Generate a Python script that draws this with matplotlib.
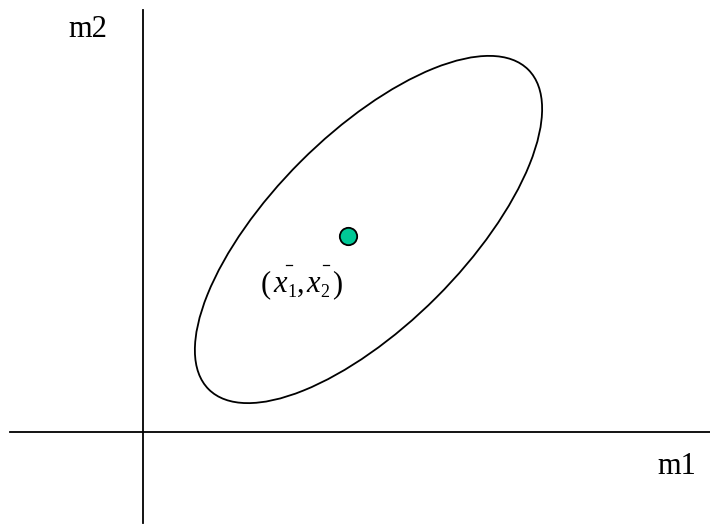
import matplotlib.pyplot as plt
from matplotlib.patches import Ellipse

plt.rcParams['font.family'] = ['Liberation Serif', 'DejaVu Serif']

# axes frame (pixel units, y grows downwards)
vert_x = 143
vert_y = [10, 523]
horz_y = 432
horz_x = [10, 710]

# ellipse of the two measurements
ell_center = (368.5, 229.5)
ell_width = 452
ell_height = 192
ell_angle = -45

# mean point and its label pieces: (text, x, baseline, size, style)
mean_pt = (348, 236)
label_parts = [
    ('(', 261, 292, 22, 'normal'),
    ('x', 273, 292, 22, 'italic'),
    ('1', 287, 297, 13, 'normal'),
    (',', 297, 292, 22, 'normal'),
    ('x', 306, 292, 22, 'italic'),
    ('2', 320, 297, 13, 'normal'),
    (')', 332, 292, 22, 'normal'),
]
bar_x = [(286, 292), (323, 329)]
bar_y = 265
axis_labels = ['m1', 'm2']

fig = plt.figure(figsize=(7.1, 5.25), dpi=100)
ax = fig.add_axes([0, 0, 1, 1])
ax.set_xlim(0, 710)
ax.set_ylim(525, 0)
ax.axis('off')

ax.plot([vert_x, vert_x], vert_y, color='black', lw=1.3)
ax.plot(horz_x, [horz_y, horz_y], color='black', lw=1.3)

ax.add_patch(Ellipse(ell_center, ell_width, ell_height, angle=ell_angle,
                     fill=False, edgecolor='black', lw=1.3))

ax.plot(*mean_pt, 'o', ms=12.5, mfc='#00C896', mec='black', mew=1.3)

for s, x, y, size, style in label_parts:
    ax.text(x, y, s, fontsize=size, style=style, ha='left', va='baseline')
for x0, x1 in bar_x:
    ax.plot([x0, x1], [bar_y, bar_y], color='black', lw=0.9)

ax.text(657, 474, axis_labels[0], fontsize=22, ha='left', va='baseline')
ax.text(68, 37, axis_labels[1], fontsize=22, ha='left', va='baseline')

fig.savefig('out.png', dpi=100)
